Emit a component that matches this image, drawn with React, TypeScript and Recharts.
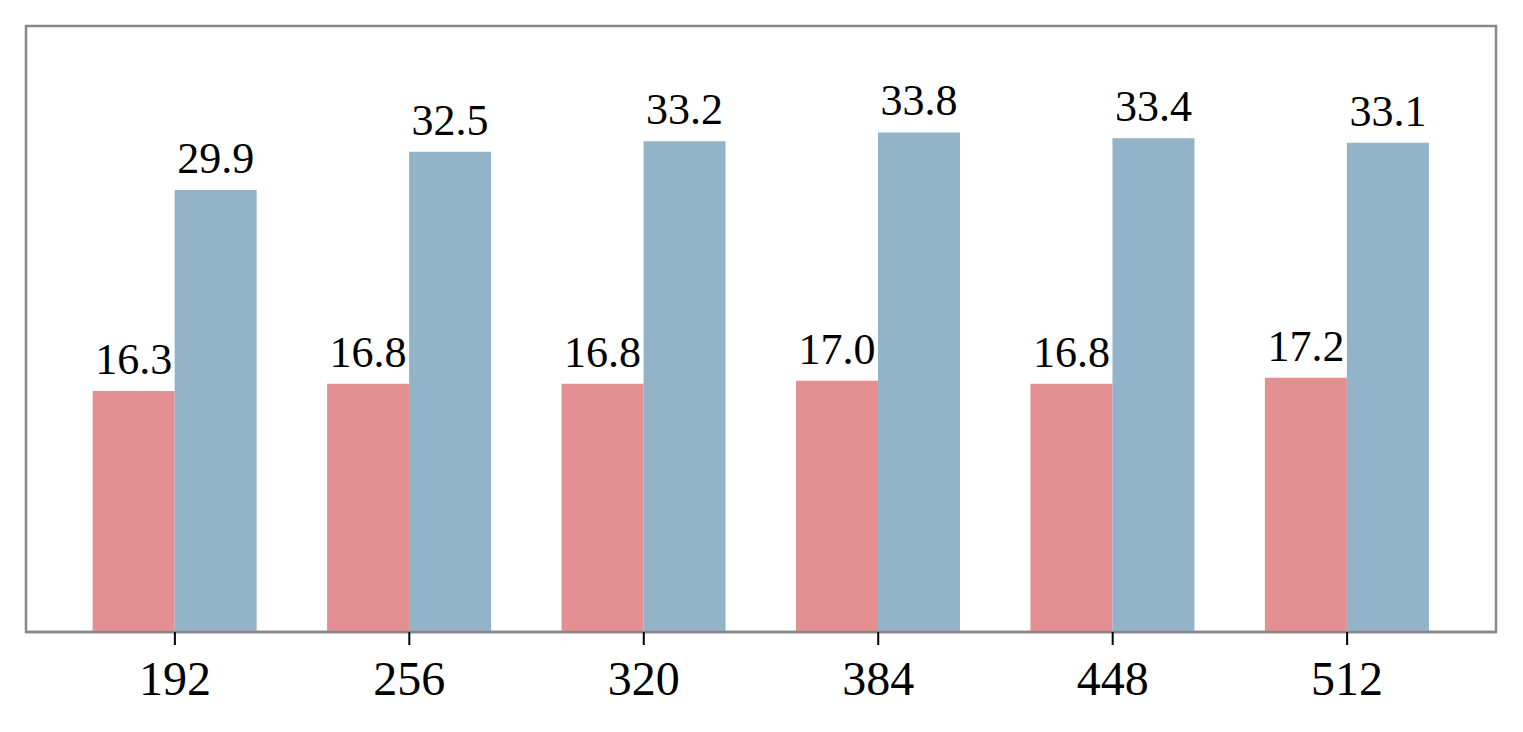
import { BarChart, Bar, XAxis, YAxis, LabelList, ReferenceArea } from "recharts";

const sizes = ["192", "256", "320", "384", "448", "512"];
const redValues = [16.3, 16.8, 16.8, 17.0, 16.8, 17.2];
const blueValues = [29.9, 32.5, 33.2, 33.8, 33.4, 33.1];

const font = "'Times New Roman', 'Liberation Serif', serif";
const frame = "#888888";

// position along the axis = index of the size
const data = sizes.map((s, i) => ({ pos: i, size: s, red: redValues[i], blue: blueValues[i] }));

const App = () => {
  return (
    <BarChart
      width={1507}
      height={716}
      data={data}
      margin={{ top: 18, right: 19, left: 18, bottom: 22 }}
      barGap={0}
      barSize={82}
    >
      <XAxis
        dataKey="pos"
        type="number"
        domain={[-0.635, 5.635]}
        ticks={[0, 1, 2, 3, 4, 5]}
        tickFormatter={(v: any) => sizes[v]}
        stroke="#000"
        axisLine={{ stroke: frame, strokeWidth: 2.5 }}
        tickLine={{ stroke: "#000", strokeWidth: 2 }}
        tickSize={13}
        tickMargin={16}
        height={70}
        tick={{ fill: "#000", fontSize: 48, fontFamily: font }}
      />
      <YAxis domain={[0, 41]} hide />
      <Bar dataKey="red" fill="#E48F91" isAnimationActive={false}>
        <LabelList
          dataKey="red"
          position="top"
          offset={17}
          formatter={(v: any) => Number(v).toFixed(1)}
          style={{ fill: "#000", fontSize: 44, fontFamily: font }}
        />
      </Bar>
      <Bar dataKey="blue" fill="#93B4C8" isAnimationActive={false}>
        <LabelList
          dataKey="blue"
          position="top"
          offset={17}
          formatter={(v: any) => Number(v).toFixed(1)}
          style={{ fill: "#000", fontSize: 44, fontFamily: font }}
        />
      </Bar>
      <ReferenceArea y1={0} y2={41} fill="none" fillOpacity={0} stroke={frame} strokeWidth={2.5} strokeOpacity={1} />
    </BarChart>
  );
};

export default App;
